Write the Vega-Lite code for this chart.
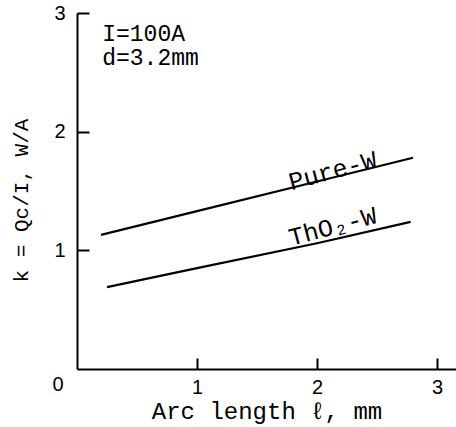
{
  "$schema": "https://vega.github.io/schema/vega-lite/v6.json",
  "width": 379,
  "height": 356,
  "autosize": {"type": "none"},
  "padding": {"left": 77, "top": 13, "right": 0, "bottom": 58},
  "background": "white",
  "config": {
    "view": {"stroke": null},
    "axis": {"grid": false, "domainColor": "black", "domainWidth": 2, "tickColor": "black", "tickWidth": 2, "labelColor": "black", "titleColor": "black", "labelFont": "Liberation Sans", "labelFontSize": 20, "titleFont": "Liberation Mono", "titleFontWeight": "normal"}
  },
  "datasets": {
    "lines": [
      {"series": "Pure-W", "x": 0.2, "y": 1.13},
      {"series": "Pure-W", "x": 1.0, "y": 1.33},
      {"series": "Pure-W", "x": 2.0, "y": 1.58},
      {"series": "Pure-W", "x": 2.8, "y": 1.78},
      {"series": "ThO2-W", "x": 0.25, "y": 0.69},
      {"series": "ThO2-W", "x": 1.0, "y": 0.85},
      {"series": "ThO2-W", "x": 2.0, "y": 1.06},
      {"series": "ThO2-W", "x": 2.78, "y": 1.24}
    ],
    "labels": [
      {"text": "Pure-W", "x": 2.13, "y": 1.67},
      {"text": "ThO₂-W", "x": 2.13, "y": 1.2}
    ],
    "notes": [
      {"text": "I=100A", "x": 0.21, "y": 2.82},
      {"text": "d=3.2mm", "x": 0.21, "y": 2.62}
    ]
  },
  "layer": [
    {
      "data": {"name": "lines"},
      "mark": {"type": "line", "color": "black", "strokeWidth": 2.2},
      "encoding": {
        "x": {"field": "x", "type": "quantitative", "scale": {"domain": [0, 3.158], "nice": false, "zero": false},
          "axis": {"values": [1, 2, 3], "tickSize": -11, "labelPadding": 19, "title": "Arc length ℓ, mm", "titleFontSize": 24, "titlePadding": 2, "format": "d"}},
        "y": {"field": "y", "type": "quantitative", "scale": {"domain": [0, 3], "nice": false},
          "axis": {"values": [1, 2, 3], "tickSize": -12, "labelPadding": 24, "title": "k = Qc/I, W/A", "titleFontSize": 21, "titlePadding": 22, "titleY": 187, "format": "d"}},
        "detail": {"field": "series"}
      }
    },
    {
      "mark": {"type": "rule", "color": "black", "strokeWidth": 2.5},
      "encoding": {"y": {"datum": 3}}
    },
    {
      "data": {"name": "labels"},
      "mark": {"type": "text", "font": "Liberation Mono", "fontSize": 25, "angle": 345, "color": "black", "align": "center", "baseline": "middle"},
      "encoding": {
        "x": {"field": "x", "type": "quantitative"},
        "y": {"field": "y", "type": "quantitative"},
        "text": {"field": "text"}
      }
    },
    {
      "data": {"name": "notes"},
      "mark": {"type": "text", "font": "Liberation Mono", "fontSize": 23, "color": "black", "align": "left", "baseline": "middle"},
      "encoding": {
        "x": {"field": "x", "type": "quantitative"},
        "y": {"field": "y", "type": "quantitative"},
        "text": {"field": "text"}
      }
    },
    {
      "data": {"values": [{"text": "0", "x": 0, "y": 0}]},
      "mark": {"type": "text", "font": "Liberation Sans", "fontSize": 20, "color": "black", "align": "center", "baseline": "middle", "dx": -19, "dy": 16},
      "encoding": {
        "x": {"field": "x", "type": "quantitative"},
        "y": {"field": "y", "type": "quantitative"},
        "text": {"field": "text"}
      }
    }
  ]
}
